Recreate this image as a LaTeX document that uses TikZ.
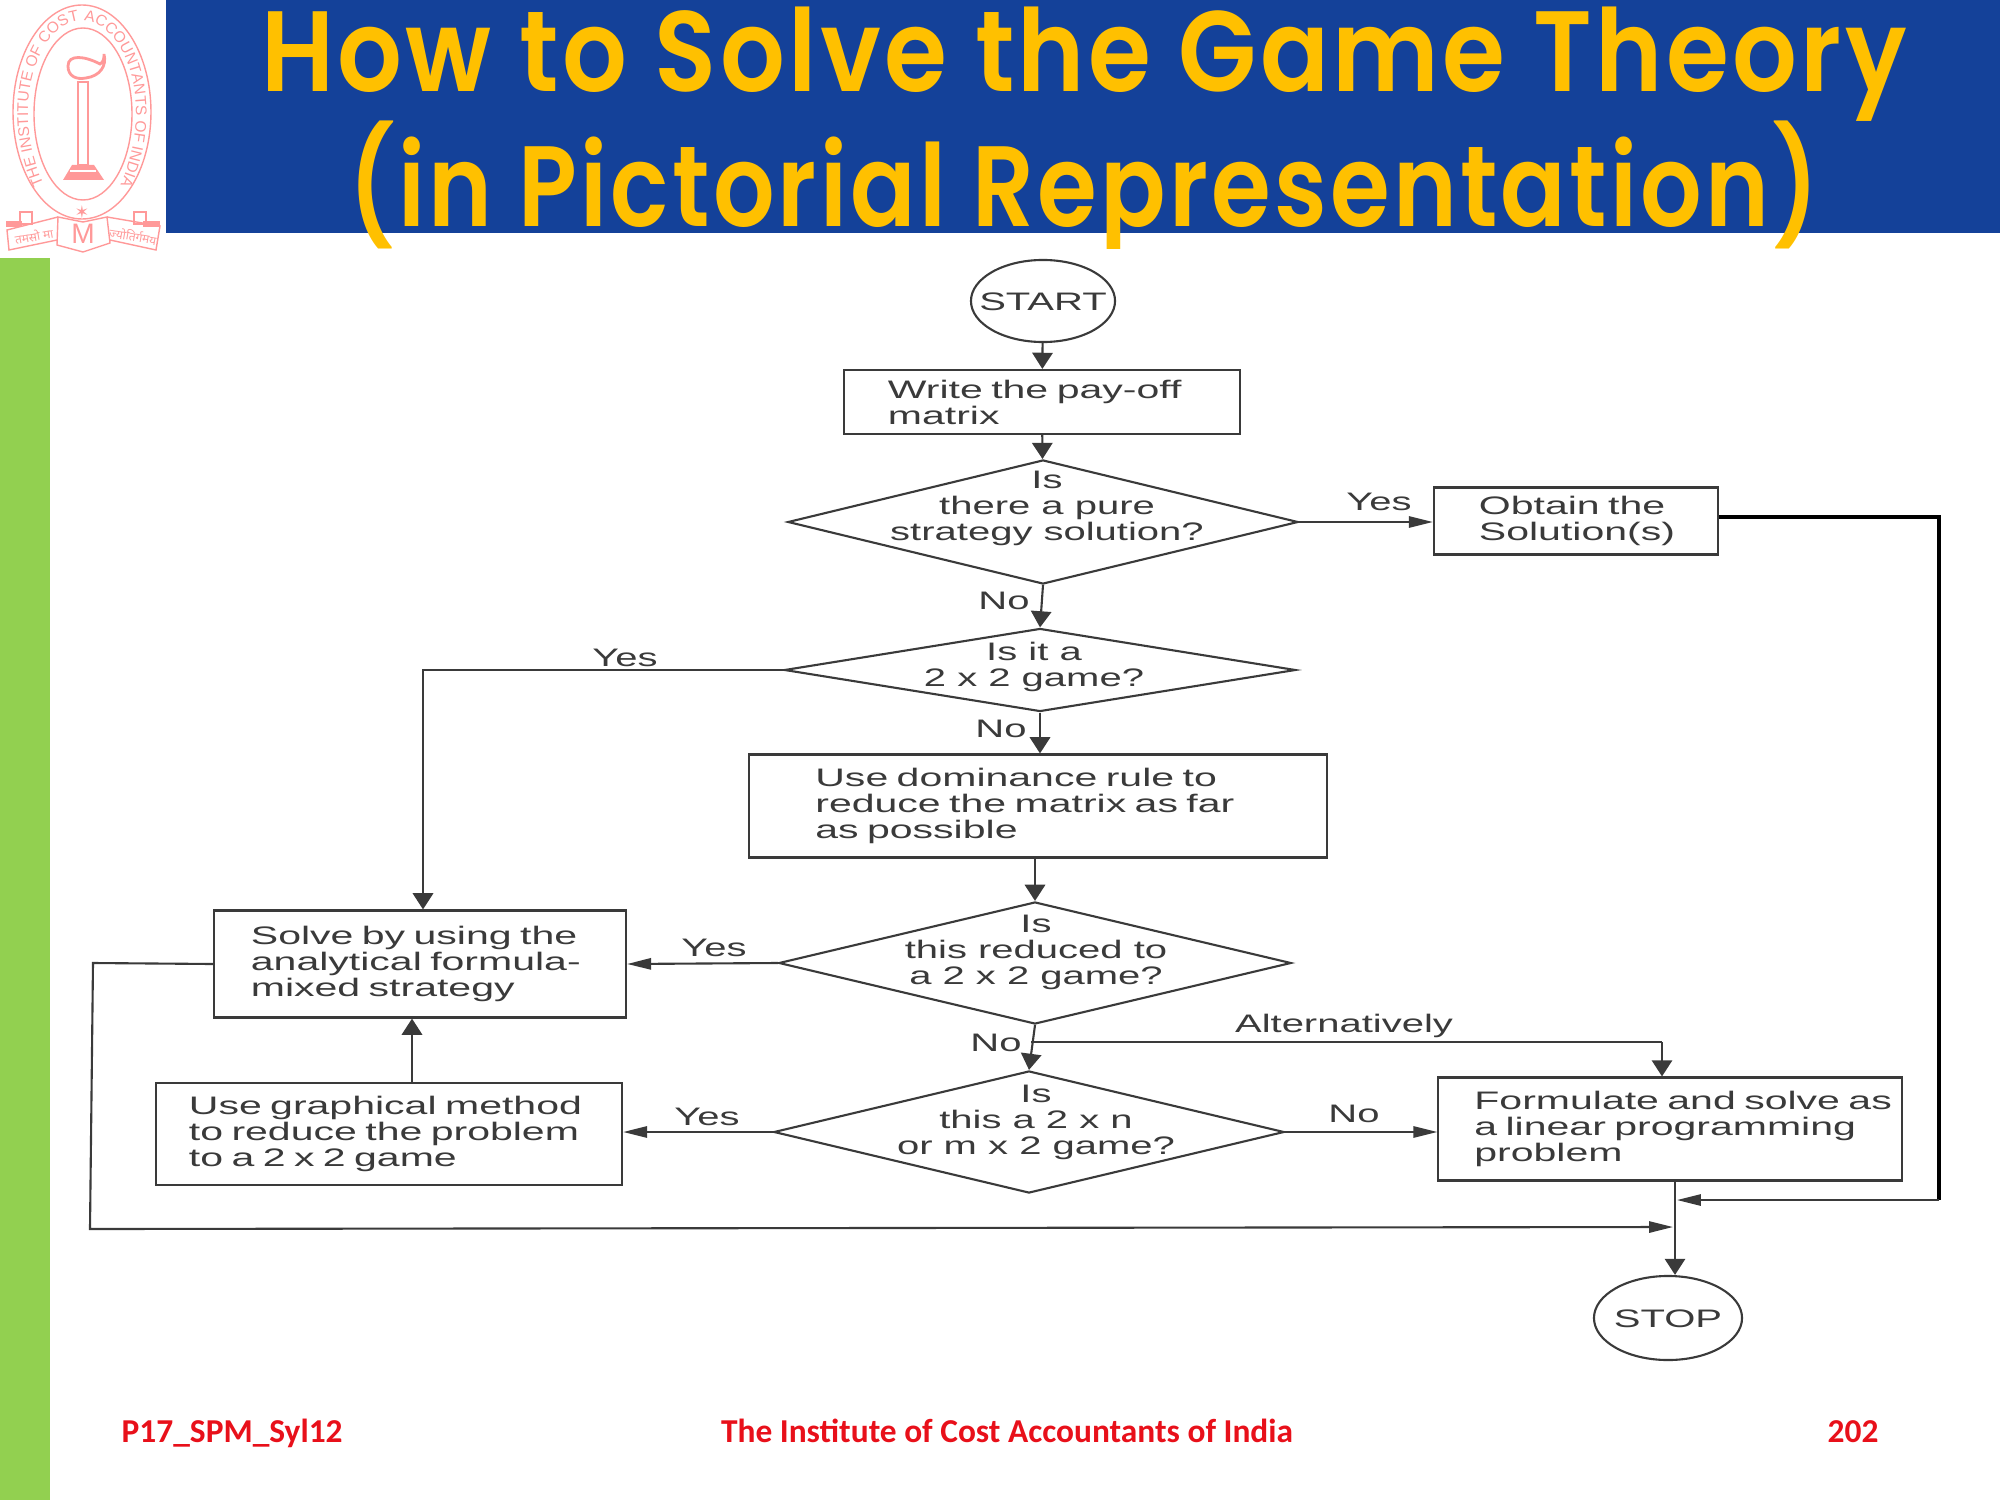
\documentclass[tikz,border=0pt]{standalone}
\usepackage{fontspec}
\setmainfont{Liberation Sans}
\newfontfamily\scanfont[FakeStretch=1.58]{Liberation Sans}
\newfontfamily\boxfont[FakeStretch=1.62]{Liberation Sans}
\newfontfamily\titlefont[FakeStretch=0.89, LetterSpace=3, BoldFont={Poppins SemiBold}]{Poppins}
\newfontfamily\footfont{Carlito}
\newfontfamily\devfont[Script=Devanagari]{Noto Sans}
\newfontfamily\starfont{DejaVu Sans}
\usetikzlibrary{shapes.geometric, arrows.meta, decorations.text}
\definecolor{headerblue}{HTML}{144199}
\definecolor{titleamber}{HTML}{FFC000}
\definecolor{sidegreen}{HTML}{92D050}
\definecolor{logopink}{HTML}{FF9999}
\definecolor{scanink}{HTML}{3A3A3A}
\definecolor{footred}{HTML}{E8101A}
\tikzset{
  flowbox/.style={draw=scanink, line width=0.6pt, text=scanink, align=left, inner ysep=0pt,
    font=\fontsize{7.2}{7.4}\selectfont\boxfont},
  labeltext/.style={text=scanink, align=center, inner sep=0pt, font=\fontsize{7.2}{7.4}\selectfont\scanfont},
  decision/.style={draw=scanink, line width=0.6pt, diamond, inner sep=0pt},
  terminal/.style={draw=scanink, line width=0.6pt, ellipse, inner sep=0pt},
  plainline/.style={draw=scanink, line width=0.6pt},
  flowdown/.style={plainline, -{Triangle[length=4.6pt,width=5.8pt]}},
  flowside/.style={plainline, -{Triangle[length=6.8pt,width=3.2pt]}},
  titletext/.style={text=titleamber, anchor=base, inner sep=0pt, font=\fontsize{32.5}{32.5}\selectfont\titlefont\bfseries},
  foottext/.style={text=footred, anchor=base, inner sep=0pt, font=\fontsize{9.5}{9.5}\selectfont\footfont\bfseries}
}
\begin{document}
\begin{tikzpicture}[x=0.01cm, y=-0.01cm]
  \useasboundingbox (0,0) rectangle (2000,1500);

  % Slide furniture
  \fill[headerblue] (166,0) rectangle (2000,233);
  \fill[sidegreen] (0,258) rectangle (50,1500);
  \begin{scope}
    \clip (0,0) rectangle (2000,248);
    \node[titletext] (titleone) at (1084,92) {How to Solve the Game Theory};
    \node[titletext, xscale=0.95] (titletwo) at (1084,226) {(in Pictorial Representation)};
  \end{scope}

  % Institute crest
  \draw[logopink, line width=0.4pt] (82,112) ellipse [x radius=69, y radius=107];
  \draw[logopink, line width=0.4pt] (83,114) ellipse [x radius=49, y radius=86];
  \path[decorate, decoration={text along path, text align=center,
      text={|\fontsize{4.4}{4.4}\selectfont\color{logopink}|THE INSTITUTE OF COST ACCOUNTANTS OF INDIA}}]
    (50,198) .. controls (36,172) and (28,142) .. (28,113) .. controls (28,62) and (52,21) .. (82,21)
    .. controls (112,21) and (136,62) .. (136,113) .. controls (136,142) and (128,172) .. (114,198);
  \draw[logopink, line width=0.8pt] (78,82) rectangle (88,165);
  \fill[logopink] (72,165) -- (94,165) -- (104,180) -- (63,180) -- cycle;
  \fill[white] (70,170) rectangle (96,172);
  \draw[logopink, line width=0.8pt, fill=white] (68,66) .. controls (68,54) and (85,56) .. (100,64)
    .. controls (104,62) and (104,57) .. (104,54) .. controls (107,66) and (100,76) .. (86,78)
    .. controls (76,80) and (68,76) .. (68,66) -- cycle;
  \node[logopink, inner sep=0pt, font=\fontsize{5}{5}\selectfont\starfont] (crestmark) at (82,212) {✶};
  \draw[logopink, line width=0.4pt] (58,217) -- (83,222) -- (107,217) -- (110,243) -- (83,252) -- (57,245) -- cycle;
  \draw[logopink, line width=0.4pt] (58,217) -- (7,230) -- (9,250) -- (57,240);
  \draw[logopink, line width=0.4pt] (107,217) -- (160,226) -- (156,250) -- (110,240);
  \fill[logopink] (6,221) rectangle (22,227);
  \fill[logopink] (143,221) rectangle (160,227);
  \draw[logopink, line width=0.4pt] (20,212) rectangle (32,224);
  \draw[logopink, line width=0.4pt] (134,212) rectangle (146,224);
  \node[logopink, inner sep=0pt, font=\fontsize{8}{8}\selectfont] (crestm) at (83,234) {M};
  \node[logopink, rotate=10, inner sep=0pt, font=\fontsize{3.4}{3.4}\selectfont\devfont] (mottoone) at (34,236) {तमसो मा};
  \node[logopink, rotate=-10, inner sep=0pt, font=\fontsize{3.4}{3.4}\selectfont\devfont] (mottotwo) at (133,236) {ज्योतिर्गमय};

  % Flowchart shapes
  \node[terminal, minimum width=1.44cm, minimum height=0.82cm] (start) at (1043,301) {};
  \node[labeltext] (starttext) at (1043,302) {START};

  \node[flowbox, minimum height=0.64cm, inner xsep=0.44cm, text width=3.08cm] (payoff) at (1042,402) {Write the pay-off\\matrix};

  \node[decision, minimum width=5.1cm, minimum height=1.24cm] (pure) at (1043,522) {};
  \node[labeltext] (puretext) at (1047,508) {Is\\there a pure\\strategy solution?};

  \node[flowbox, minimum height=0.67cm, inner xsep=0.45cm, text width=1.94cm] (obtain) at (1576,521) {Obtain the\\Solution(s)};

  \node[decision, minimum width=5.11cm, minimum height=0.83cm] (twobytwo) at (1040,670) {};
  \node[labeltext] (twobytwotext) at (1034,667) {Is it a\\2 x 2 game?};

  \node[flowbox, minimum height=1.03cm, inner xsep=0.66cm, text width=4.45cm] (dominance) at (1038,806) {Use dominance rule to\\reduce the matrix as far\\as possible};

  \node[decision, minimum width=5.12cm, minimum height=1.22cm] (reduced) at (1035,963) {};
  \node[labeltext] (reducedtext) at (1036,952) {Is\\this reduced to\\a 2 x 2 game?};

  \node[flowbox, minimum height=1.07cm, inner xsep=0.37cm, text width=3.38cm] (solve) at (420,964) {Solve by using the\\analytical formula-\\mixed strategy};

  \node[decision, minimum width=5.1cm, minimum height=1.22cm] (mbytwo) at (1029,1132) {};
  \node[labeltext] (mbytwotext) at (1036,1122) {Is\\this a 2 x n\\or m x 2 game?};

  \node[flowbox, minimum height=1.02cm, inner xsep=0.33cm, text width=4cm] (graphical) at (389,1134) {Use graphical method\\to reduce the problem\\to a 2 x 2 game};

  \node[flowbox, minimum height=1.03cm, inner xsep=0.36cm, text width=3.91cm] (formulate) at (1670,1129) {\mbox{Formulate and solve as}\\a linear programming\\problem};

  \node[terminal, minimum width=1.48cm, minimum height=0.84cm] (stop) at (1668,1318) {};
  \node[labeltext] (stoptext) at (1668,1319) {STOP};

  % Free ends of the connectors
  \coordinate (altstart) at (1031,1042);
  \coordinate (altturn) at (1662,1042);
  \coordinate (yesturn) at (423,670);
  \coordinate (graphup) at (412,1000);
  \coordinate (stopline) at (1675,1300);
  \coordinate (joinright) at (1677,1200);
  \coordinate (joinleft) at (1673,1227);
  \coordinate (rightup) at (1939,517);
  \coordinate (rightdown) at (1939,1200);
  \coordinate (leftup) at (93,963);
  \coordinate (leftdown) at (90,1229);

  % Connectors
  \draw[flowdown] (start) -- (payoff);
  \draw[flowdown] (payoff) -- (pure);
  \draw[flowside] (pure.east) -- (obtain.west |- pure.east);
  \draw[flowdown] (pure.south) -- (twobytwo.north);
  \draw[flowdown] (twobytwo.south) -- (dominance.north -| twobytwo.south);
  \draw[flowdown] (twobytwo.west) -- (yesturn) -- (solve.north -| yesturn);
  \draw[flowdown] (dominance.south -| reduced.north) -- (reduced.north);
  \draw[flowside] (reduced.west) -- (solve.east);
  \draw[flowdown] (reduced.south) -- (mbytwo.north);
  \draw[plainline] (altstart) -- (altturn);
  \draw[flowdown] (altturn) -- (formulate.north -| altturn);
  \draw[flowside] (mbytwo.west) -- (graphical.east |- mbytwo.west);
  \draw[flowside] (mbytwo.east) -- (formulate.west |- mbytwo.east);
  \draw[flowdown] (graphical.north -| graphup) -- (solve.south -| graphup);
  \draw[flowdown] (formulate.south -| stopline) -- (stop.north -| stopline);
  \draw[black, line width=1pt] (obtain.east |- rightup) -- (rightup) -- (rightdown);
  \draw[flowside] (rightdown) -- (joinright);
  \draw[flowside] (solve.west) -- (leftup) -- (leftdown) -- (joinleft);

  % Edge labels
  \node[labeltext] (yesobtain) at (1379,502) {Yes};
  \node[labeltext] (nopure) at (1004,601) {No};
  \node[labeltext] (yestwo) at (625,658) {Yes};
  \node[labeltext] (notwo) at (1001,729) {No};
  \node[labeltext] (yesreduced) at (714,948) {Yes};
  \node[labeltext] (noreduced) at (996,1043) {No};
  \node[labeltext] (alternatively) at (1344,1026) {Alternatively};
  \node[labeltext] (yesgraph) at (707,1117) {Yes};
  \node[labeltext] (nolp) at (1354,1114) {No};

  % Footer
  \node[foottext, anchor=base west] (footcode) at (121,1442) {P17\_SPM\_Syl12};
  \node[foottext] (footname) at (1007,1442) {The Institute of Cost Accountants of India};
  \node[foottext] (footpage) at (1853,1442) {202};
\end{tikzpicture}
\end{document}
